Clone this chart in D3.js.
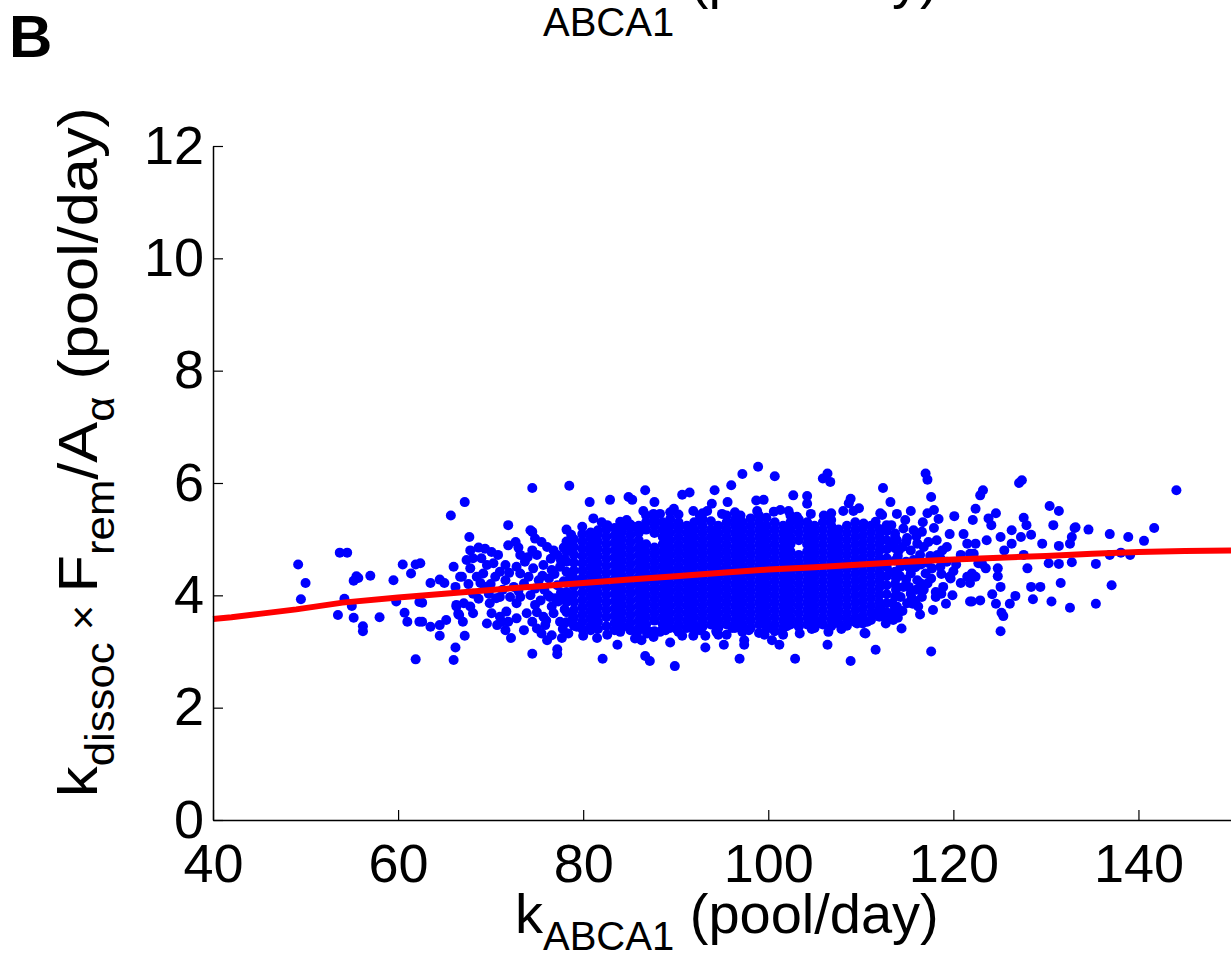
<!DOCTYPE html>
<html>
<head>
<meta charset="utf-8">
<script src="https://cdn.jsdelivr.net/npm/d3@7"></script>
<style>
  body { margin: 0; background: #fff; }
  text { font-family: "Liberation Sans", Arial, sans-serif; fill: #000; }
</style>
</head>
<body>
<div id="chart"></div>
<script>
// axis ticks
var xTicks = [40, 60, 80, 100, 120, 140];
var yTicks = [0, 2, 4, 6, 8, 10, 12];

// red running-mean line (kABCA1, value)
var fitLine = [[40,3.58],[42,3.61],[45,3.67],[49,3.75],[54,3.87],[60,3.96],[65,4.03],[71,4.11],[76,4.17],[80,4.22],
  [85,4.28],[90,4.34],[95,4.40],[100,4.46],[105,4.50],[110,4.55],[115,4.60],[120,4.64],[125,4.67],[130,4.70],
  [135,4.74],[140,4.77],[145,4.79],[150,4.80]];

// sparse points, left tail
var leftPts = [[49.2,4.55],[50.0,4.22],[49.5,3.93],[53.7,4.76],[54.5,4.76],[54.2,3.94],[53.5,3.65],[55.0,3.81],[55.2,3.60],
  [55.5,4.34],[55.7,4.31],[55.2,4.26],[57.0,4.35],[56.2,3.45],[56.2,3.36],[58.0,3.61],[59.5,4.27],[59.8,3.89],[60.5,4.55],
  [61.4,4.39],[61.9,4.55],[60.7,3.69],[61.0,3.53],[61.9,2.86],[62.3,3.53],[62.3,3.88],
  [65.7,5.42],[67.2,5.66],[74.5,5.91],[78.5,5.95],[80.7,5.66],[82.9,5.70],[84.9,5.75],[85.3,5.70],[71.9,5.25],[67.7,5.04],
  [74.5,5.13],[78.2,5.17],[81.1,5.37],[66.0,4.51],[62.4,4.57],[63.5,4.22],[64.5,4.28],[65.0,4.22],[62.6,3.87],[62.6,3.53],
  [63.5,3.44],[64.5,3.47],[65.2,3.56],[64.5,3.28],[66.0,2.85],[66.2,3.07],[67.2,3.28],[67.0,3.53],[66.2,4.15],[66.7,4.33],
  [66.3,3.83],[66.5,3.67],[74.5,2.96],[77.2,3.04],[77.2,2.95],[82.1,2.87],[72.2,3.24],[80.0,3.28],[81.5,3.24],[83.7,3.12],
  [77.7,3.24],[76.1,3.20],[85.6,3.23],[69.6,3.50],[71.2,3.53]];

// medium density points, x 66-86
var midPts = [[68.7,4.85],[69.4,4.83],[70.1,4.77],[67.8,4.80],[70.8,4.72],[71.9,4.89],[72.7,4.95],[73.2,4.72],[74.5,4.80],
  [75.0,4.72],[75.5,4.95],[76.8,4.80],[77.2,4.72],[76.1,4.86],[67.4,4.63],[68.1,4.66],[69.0,4.66],[69.6,4.54],[70.3,4.57],
  [67.8,4.48],[71.0,4.42],[71.6,4.54],[72.8,4.51],[73.7,4.60],[74.6,4.48],[75.7,4.54],[76.6,4.45],[77.5,4.51],[73.2,4.39],
  [66.9,4.33],[67.6,4.20],[68.5,4.33],[69.2,4.39],[70.5,4.33],[71.6,4.27],[72.5,4.15],[73.6,4.21],[74.1,4.33],[75.2,4.27],
  [76.3,4.30],[77.2,4.18],[74.8,4.12],[69.4,4.15],[68.1,4.03],[68.7,3.94],[69.8,4.03],[71.0,3.97],[72.1,3.97],[73.2,3.97],
  [74.3,4.00],[75.4,3.91],[76.4,3.97],[77.3,3.89],[67.1,3.86],[67.8,3.80],[69.9,3.86],[72.8,3.86],[74.8,3.83],[76.6,3.80],
  [66.3,3.80],[66.6,3.65],[68.1,3.68],[70.1,3.68],[71.0,3.62],[71.7,3.71],[71.9,3.53],[73.9,3.68],[74.5,3.53],[75.7,3.62],
  [76.8,3.68],[77.5,3.53],[70.7,3.47],[72.8,3.59],[71.6,3.38],[75.0,3.41],[75.5,3.32],[75.9,3.47],[76.6,3.29],[73.6,3.38],
  [74.3,5.16],[74.8,5.01],[70.0,4.20],[72.0,4.40],[73.0,4.08],[75.8,4.10],[76.9,4.38],[77.8,4.00],[77.9,4.25],[78.0,4.65],
  [77.9,4.85],[78.0,3.75],[73.0,4.85],[71.3,4.10],[68.9,4.22],[70.6,3.95],[75.0,3.70],[76.0,3.55],
  [77.6,4.62],[78.6,4.32],[78.5,3.98],[78.7,5.08],[77.0,3.95],[78.9,3.60],[77.8,3.40],[78.8,4.90],[76.5,4.65],[76.2,4.00],
  [77.6,4.05],[75.6,4.35],[74.0,4.68],
  [79.9,5.22],[82.6,5.25],[84.0,5.31],[84.7,5.34],[85.4,5.22],[82.0,5.30],[78.4,3.32],[79.3,3.44],[80.8,3.38],[82.6,3.30],
  [84.0,3.35],[84.9,3.44],[85.8,3.32]];

// fringe and outliers, x 86-110
var centrePts = [[86.7,5.87],[87.7,5.66],[90.7,5.79],[91.5,5.83],[94.2,5.87],[96.0,5.96],[97.2,6.16],[98.9,6.29],[100.7,6.12],
  [95.6,5.66],[102.7,5.78],[104.2,5.77],[104.2,5.63],[105.9,6.08],[106.4,6.17],[106.7,6.02],[98.7,5.69],[99.5,5.70],[98.8,5.50],
  [86.5,5.50],[87.6,5.45],[88.3,5.45],[89.4,5.48],[89.8,5.54],[91.9,5.50],[93.4,5.50],[93.9,5.63],[108.9,5.72],[108.1,5.50],
  [109.2,5.50],[86.7,2.92],[87.2,2.83],[89.9,2.74],[96.9,2.87],[102.9,2.87],[108.9,2.83],[89.4,3.16],[90.7,3.28],[91.9,3.28],
  [93.2,3.28],[93.2,3.07],[95.2,3.12],[97.4,3.20],[97.4,3.12],[100.4,3.20],[101.2,3.12],[99.0,3.33],[103.4,3.32],[106.4,3.12],
  [107.9,3.40],[87.6,3.26],[86.9,3.32],[86.3,3.20],[94.4,3.37],[104.9,3.50],[105.8,3.50],
  [100.6,5.49],[101.3,5.52],[102.2,5.50],[103.1,5.40],[108.7,5.64],[109.8,5.55],[95.0,5.45],[97.0,5.42],[92.6,5.42],[106.0,5.42],
  [104.6,5.45],[86.2,3.40],[87.2,3.35],[88.3,3.35],[88.9,3.38],[90.1,3.40],[91.9,3.40],[92.6,3.38],[94.4,3.35],[96.1,3.42],
  [97.9,3.38],[100.2,3.42],[102.0,3.45],[95.5,3.30],[99.6,3.30],[101.6,3.30],[104.7,3.40],[106.5,3.35],[109.6,3.50]];

// right tail
var rightPts = [[117.0,6.17],[117.2,6.06],[112.4,5.91],[113.2,5.66],[117.6,5.75],[122.9,5.78],[123.2,5.87],[127.1,6.00],
  [127.4,6.05],[115.4,5.50],[113.9,5.45],[112.1,5.46],[117.2,5.46],[117.9,5.52],[118.4,5.36],[120.1,5.41],[122.4,5.54],
  [124.6,5.46],[123.8,5.37],[124.1,5.25],[122.1,5.34],[127.6,5.38],[127.9,5.25],[130.4,5.59],[131.4,5.50],[130.8,5.25],
  [133.2,5.21],[132.8,5.04],[132.6,4.92],[131.4,4.88],[129.6,4.92],[128.4,5.08],[127.3,5.04],[126.3,5.16],[126.3,4.92],
  [125.1,5.04],[125.5,4.80],[123.6,4.98],[122.4,4.92],[122.2,4.74],[121.1,5.09],[119.6,5.09],[118.2,4.98],[119.3,4.86],
  [127.6,4.72],[128.0,4.48],[130.3,4.57],[131.4,4.56],[132.8,4.59],[131.6,4.22],[128.4,4.15],[129.4,4.15],[128.6,3.93],
  [130.6,3.89],[132.6,3.78],[126.7,3.99],[126.1,3.85],[125.1,4.15],[124.2,4.02],[124.6,3.85],[125.2,3.69],[125.4,3.63],
  [125.1,3.36],[124.8,4.34],[124.8,4.48],[123.5,4.48],[123.1,4.56],[122.9,3.91],[122.0,3.89],[122.0,4.39],[121.8,4.22],
  [120.8,4.22],[120.0,4.43],[119.6,4.33],[119.2,3.85],[118.7,4.03],[118.1,3.97],[117.8,3.74],[117.6,3.00],[114.4,3.41],
  [116.4,3.66],[111.6,3.03],[110.4,3.33],[113.5,3.56],[112.8,3.62],[115.6,3.85],[116.5,4.21],[117.7,4.48],[118.6,4.51],
  [118.8,4.80],[118.6,4.66],[120.8,4.72],[121.5,4.92],[121.8,4.74],[119.7,4.30],[121.5,4.33],[122.4,4.33],[118.9,4.15],
  [118.1,4.06],[122.7,4.57],[121.8,3.89],
  [144.1,5.87],[141.7,5.20],[140.6,4.97],[138.9,5.04],[136.9,5.09],[134.6,5.17],[133.1,5.20],[136.9,4.72],[138.1,4.76],
  [139.1,4.72],[135.4,4.56],[137.1,4.18],[135.4,3.85],
  [110.3,5.28],[111.6,5.31],[112.3,5.43],[112.8,5.25],[114.6,5.19],[115.7,5.16],[116.6,5.13],[114.8,5.34],[113.9,4.98],
  [114.5,4.86],[115.4,4.80],[116.1,4.92],[116.8,4.86],[115.7,4.63],[116.4,4.72],[114.3,4.51],[115.4,4.39],[116.1,4.27],
  [114.6,4.15],[114.3,3.97],[115.4,4.03],[116.6,3.97],[113.9,3.80],[115.0,3.86],[117.2,4.21],[117.0,4.39],[110.7,3.53],
  [111.4,3.68],[112.1,3.65],[112.8,3.62],[110.5,3.32],[113.4,3.86],[112.1,3.80],
  [114.0,4.70],[114.9,4.60],[115.9,4.50],[113.8,4.30],[114.9,4.28],[116.0,4.10],[113.8,4.10],[115.5,3.95],[116.2,3.80],
  [114.5,3.72],[113.7,5.10],[115.0,5.02],[116.0,5.05],[117.3,4.95],[117.5,4.70],[117.2,4.58],
  [113.2,4.40],[113.4,4.90],[113.5,3.70],[114.2,4.35],[114.1,4.80],[114.9,4.95],[115.2,4.15],[115.2,4.50],[115.9,3.90],
  [116.5,4.55],[116.8,4.10],[117.6,4.30],[118.3,4.72],[117.9,5.20],[118.7,4.38],[119.3,4.60],[120.3,4.55],[119.9,4.00],
  [116.7,5.30],[113.3,5.25],[112.7,3.50],[114.0,3.60]];

// dense core, one column per x: [x, y, y, ...]
var coreCols = [
  [78.2, 3.52,3.70,3.88,4.06,4.24,4.42,4.60,4.78,4.96],
  [79.0, 3.46,3.60,3.74,3.88,4.02,4.16,4.30,4.44,4.58,4.72,4.86,5.00],
  [79.9, 3.40,3.53,3.66,3.79,3.92,4.05,4.18,4.31,4.44,4.57,4.70,4.83,4.96,5.09],
  [80.8, 3.46,3.59,3.72,3.85,3.98,4.11,4.24,4.37,4.50,4.63,4.76,4.89,5.02,5.12],
  [81.6, 3.40,3.53,3.66,3.79,3.92,4.05,4.18,4.31,4.44,4.57,4.70,4.83,4.96,5.09,5.16],
  [82.5, 3.45,3.61,3.74,3.87,4.00,4.13,4.26,4.39,4.52,4.65,4.78,4.91,5.04,5.17],
  [83.4, 3.38,3.51,3.64,3.77,3.90,4.03,4.16,4.29,4.42,4.55,4.68,4.81,4.94,5.07,5.20],
  [84.2, 3.44,3.57,3.70,3.83,3.96,4.09,4.22,4.35,4.48,4.61,4.74,4.87,5.00,5.13,5.22],
  [85.1, 3.38,3.51,3.64,3.77,3.90,4.03,4.16,4.29,4.42,4.55,4.68,4.81,4.94,5.07,5.20,5.26],
  [86.0, 3.42,3.55,3.68,3.81,3.94,4.07,4.20,4.33,4.46,4.59,4.72,4.85,4.98,5.11,5.24],
  [86.8, 3.48,3.61,3.74,3.87,4.00,4.13,4.26,4.39,4.52,4.65,4.78,4.91,5.17,5.30,5.42],
  [87.7, 3.36,3.55,3.68,3.81,3.94,4.07,4.20,4.33,4.46,4.59,4.72,4.85,5.11,5.24,5.35],
  [88.6, 3.48,3.61,3.74,3.87,4.00,4.13,4.26,4.39,4.52,4.65,4.78,4.91,5.04,5.17,5.30],
  [89.4, 3.42,3.55,3.68,3.81,3.94,4.07,4.20,4.33,4.46,4.59,4.72,4.85,4.98,5.11,5.24,5.36],
  [90.3, 3.35,3.48,3.61,3.74,3.87,4.00,4.13,4.26,4.39,4.52,4.65,4.78,4.91,5.04,5.17,5.30,5.44],
  [91.2, 3.42,3.55,3.68,3.81,3.94,4.07,4.20,4.33,4.46,4.59,4.72,4.85,4.98,5.11,5.24],
  [92.0, 3.48,3.61,3.74,3.87,4.00,4.13,4.26,4.39,4.52,4.65,4.78,4.91,5.04,5.17,5.30],
  [92.9, 3.44,3.55,3.68,3.81,3.94,4.07,4.20,4.33,4.46,4.59,4.72,4.85,4.98,5.11,5.24,5.36,5.46],
  [93.8, 3.48,3.61,3.74,3.87,4.00,4.13,4.26,4.39,4.52,4.65,4.78,4.91,5.04,5.17,5.32],
  [94.6, 3.30,3.42,3.55,3.68,3.81,3.94,4.07,4.20,4.33,4.46,4.59,4.72,4.85,4.98,5.11,5.24],
  [95.5, 3.48,3.61,3.74,3.87,4.00,4.13,4.26,4.39,4.52,4.65,4.78,4.91,5.04,5.17,5.30,5.42],
  [96.4, 3.42,3.55,3.68,3.81,3.94,4.07,4.20,4.33,4.46,4.59,4.72,4.85,4.98,5.11,5.24,5.35,5.48],
  [97.2, 3.35,3.48,3.61,3.74,3.87,4.00,4.13,4.26,4.39,4.52,4.65,4.78,4.91,5.04,5.17,5.30],
  [98.1, 3.42,3.55,3.68,3.81,3.94,4.07,4.20,4.33,4.46,4.59,4.72,4.85,4.98,5.11,5.24,5.37],
  [99.0, 3.48,3.61,3.74,3.87,4.00,4.13,4.26,4.39,4.52,4.65,4.78,4.91,5.04,5.17,5.30,5.42],
  [99.8, 3.42,3.55,3.68,3.81,3.94,4.07,4.20,4.33,4.46,4.59,4.72,4.85,4.98,5.11,5.24,5.38],
  [100.7, 3.36,3.48,3.61,3.74,3.87,4.00,4.13,4.26,4.39,4.52,4.65,4.78,4.91,5.04,5.17,5.30],
  [101.6, 3.42,3.55,3.68,3.81,3.94,4.07,4.20,4.33,4.46,4.59,4.72,4.85,4.98,5.11,5.24],
  [102.4, 3.48,3.61,3.74,3.87,4.00,4.13,4.26,4.39,4.52,4.65,4.78,4.91,5.04,5.17,5.30,5.42],
  [103.3, 3.44,3.55,3.68,3.81,3.94,4.07,4.20,4.33,4.46,4.59,4.72,4.98,5.11,5.24,5.35],
  [104.2, 3.48,3.61,3.74,3.87,4.00,4.13,4.26,4.39,4.52,4.65,4.78,4.91,5.04,5.17,5.30],
  [105.0, 3.42,3.55,3.68,3.81,3.94,4.07,4.20,4.33,4.46,4.59,4.72,4.85,4.98,5.11,5.24],
  [105.9, 3.48,3.61,3.74,3.87,4.00,4.13,4.26,4.39,4.52,4.65,4.78,4.91,5.04,5.17,5.30],
  [106.8, 3.45,3.56,3.68,3.81,3.94,4.07,4.20,4.33,4.46,4.59,4.72,4.85,4.98,5.11,5.24,5.34,5.46],
  [107.6, 3.50,3.61,3.74,3.87,4.00,4.13,4.26,4.39,4.52,4.65,4.78,4.91,5.04,5.17],
  [108.5, 3.46,3.57,3.68,3.81,3.94,4.07,4.20,4.33,4.46,4.59,4.72,4.85,4.98,5.11,5.24],
  [109.4, 3.52,3.61,3.74,3.87,4.00,4.13,4.26,4.39,4.52,4.65,4.78,4.91,5.04,5.17,5.30],
  [110.2, 3.50,3.63,3.76,3.89,4.02,4.15,4.28,4.41,4.54,4.67,4.80,4.93,5.06,5.19],
  [111.1, 3.56,3.69,3.82,3.95,4.08,4.21,4.34,4.47,4.60,4.73,4.86,4.99,5.12,5.24],
  [112.0, 3.62,3.75,3.88,4.01,4.14,4.27,4.40,4.53,4.66,4.79,4.92,5.05,5.18],
  [112.8, 3.70,3.86,4.02,4.18,4.34,4.50,4.66,4.82,4.98,5.14],
  [113.7, 3.78,3.98,4.20,4.42,4.62,4.84,5.04]
];

var width = 1231, height = 960;
var margin = {left: 213, right: 0, top: 146, bottom: 140};

var x = d3.scaleLinear().domain([40, 150]).range([margin.left, width - margin.right]);
var y = d3.scaleLinear().domain([0, 12]).range([height - margin.bottom, margin.top]);

var svg = d3.select("#chart").append("svg")
    .attr("width", width)
    .attr("height", height)
    .style("background", "#fff");

// flatten all points
var points = leftPts.concat(midPts, centrePts, rightPts);
coreCols.forEach(function(c) {
  c.slice(1).forEach(function(v) { points.push([c[0], v]); });
});

svg.append("g").selectAll("circle")
    .data(points)
    .enter().append("circle")
    .attr("cx", function(d) { return x(d[0]); })
    .attr("cy", function(d) { return y(d[1]); })
    .attr("r", 5)
    .attr("fill", "#0000ff");

svg.append("path")
    .datum(fitLine)
    .attr("fill", "none")
    .attr("stroke", "#ff0000")
    .attr("stroke-width", 6)
    .attr("d", d3.line().x(function(d) { return x(d[0]); }).y(function(d) { return y(d[1]); }));

// axes, ticks pointing inward
var xAxis = svg.append("g")
    .attr("transform", "translate(0," + y(0) + ")")
    .call(d3.axisBottom(x).tickValues(xTicks).tickSize(-10).tickSizeOuter(0).tickPadding(24));
var yAxis = svg.append("g")
    .attr("transform", "translate(" + x(40) + ",0)")
    .call(d3.axisLeft(y).tickValues(yTicks).tickSize(-10).tickSizeOuter(0).tickPadding(9));

[xAxis, yAxis].forEach(function(a) {
  a.select(".domain").attr("stroke", "#000").attr("stroke-width", 1.5);
  a.selectAll(".tick line").attr("stroke", "#000").attr("stroke-width", 1.2);
  a.selectAll(".tick text")
    .style("font-family", "'Liberation Sans', Arial, sans-serif")
    .style("font-size", "54px")
    .attr("fill", "#000");
});

// x label (bottom) and the clipped one from the panel above
function xLabel(baseY, sub) {
  var t = svg.append("text")
      .attr("x", 515)
      .attr("y", baseY)
      .style("font-size", "56px");
  t.append("tspan").text("k");
  t.append("tspan").attr("dy", sub).style("font-size", "40px").text("ABCA1");
  t.append("tspan").attr("dy", -sub).text(" (pool/day)");
}
xLabel(933, 17);
xLabel(-3, 39);

// y label, stretched along its length like the reference
var yl = svg.append("text")
    .attr("transform", "translate(97,452) rotate(-90) scale(1.094,1)")
    .attr("text-anchor", "middle")
    .style("font-size", "56px");
yl.append("tspan").text("k");
yl.append("tspan").attr("dy", 17).style("font-size", "40px").text("dissoc");
yl.append("tspan").attr("dy", -17).style("font-size", "40px").text(" \u00d7 ");
yl.append("tspan").text("F");
yl.append("tspan").attr("dy", 17).style("font-size", "40px").text("rem");
yl.append("tspan").attr("dy", -17).text("/A");
yl.append("tspan").attr("dy", 17).style("font-size", "40px").text("\u03b1");
yl.append("tspan").attr("dy", -17).text(" (pool/day)");

// panel letter
svg.append("text")
    .attr("x", 9)
    .attr("y", 57)
    .style("font-size", "60px")
    .style("font-weight", "bold")
    .text("B");
</script>
</body>
</html>
